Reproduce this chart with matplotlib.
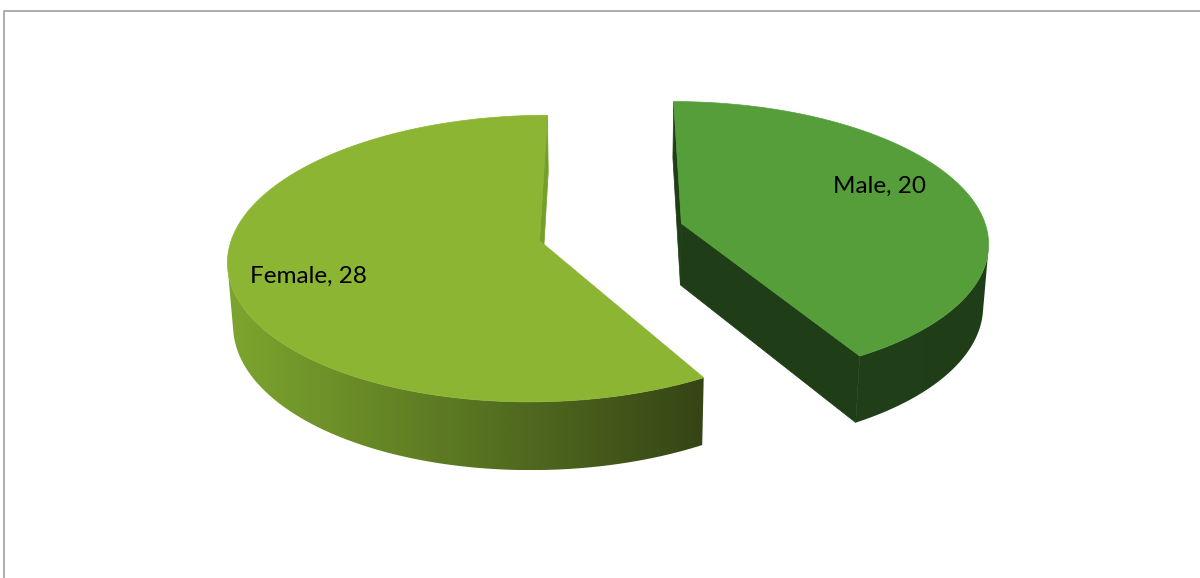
import numpy as np
import matplotlib
matplotlib.use("Agg")
import matplotlib.pyplot as plt
from matplotlib.patches import Polygon
from matplotlib.colors import LinearSegmentedColormap

# ---- data ----
categories = ["Male", "Female"]
values = [20, 28]
labels = ["Male, 20", "Female, 28"]

# ---- style ----
top_colors = ["#559E3A", "#8BB533"]
side_light = ["#21401A", "#7DA52E"]
side_dark = ["#1F3D17", "#354515"]
edge_colors = ["#1F3D17", "#74A02A"]

W, H = 1200, 578
fig = plt.figure(figsize=(12, 5.78), dpi=100)
ax = fig.add_axes([0, 0, 1, 1])
ax.set_xlim(0, W)
ax.set_ylim(H, 0)
ax.axis("off")

# frame (chart area border, cut by the image edges)
ax.plot([3.5, 3.5, W + 5], [H + 5, 11, 11], color="#A0A0A0", lw=1.2, zorder=1)

# projection parameters
elev = np.radians(27)
focal = 7.2
scale = 306
cx, cy = 611, 232
height = 0.23
explode = 0.24

cam = np.array([0.0, -focal * np.cos(elev), focal * np.sin(elev)])


def proj(x, y, z):
    depth = y * np.cos(elev) - z * np.sin(elev)
    v = y * np.sin(elev) + z * np.cos(elev)
    s = focal / (focal + depth)
    return cx + scale * x * s, cy - scale * v * s


def visible(normal, point):
    return np.dot(normal, cam - np.asarray(point)) > 0


total = sum(values)
start = 90.0
slices = []
for i, v in enumerate(values):
    sweep = 360.0 * v / total
    a1 = start - sweep  # clockwise
    a2 = start
    slices.append((a1, a2))
    start = a1

for i, (a1, a2) in enumerate(slices):
    mid = np.radians((a1 + a2) / 2)
    ox, oy = explode * np.cos(mid), explode * np.sin(mid)
    th = np.radians(np.linspace(a1, a2, 600))

    # visible part of the outer side
    vis = np.array([visible((np.cos(t), np.sin(t), 0.0),
                            (ox + np.cos(t), oy + np.sin(t), -height / 2)) for t in th])
    tv = th[vis]
    if len(tv) > 1:
        rx = ox + np.cos(tv)
        ry = oy + np.sin(tv)
        tx_, ty_ = proj(rx, ry, np.zeros_like(rx))
        bx_, by_ = proj(rx, ry, np.full_like(rx, -height))
        sx = np.concatenate([tx_, bx_[::-1]])
        sy = np.concatenate([ty_, by_[::-1]])
        poly = Polygon(np.column_stack([sx, sy]), closed=True,
                       facecolor=side_light[i], edgecolor="none", zorder=2)
        ax.add_patch(poly)
        if side_light[i] != side_dark[i]:
            poly.set_facecolor("none")
            cmap = LinearSegmentedColormap.from_list(
                "side", [side_light[i], side_dark[i]])
            grad = np.linspace(0, 1, 256).reshape(1, -1)
            im = ax.imshow(grad, cmap=cmap, aspect="auto",
                           extent=[sx.min(), sx.max(), sy.max(), sy.min()],
                           zorder=2, interpolation="bilinear")
            im.set_clip_path(poly)

    # radial faces
    for a, sgn in ((a1, -1), (a2, 1)):
        ar = np.radians(a)
        normal = (-sgn * np.sin(ar), sgn * np.cos(ar), 0.0)
        pm = (ox + 0.5 * np.cos(ar), oy + 0.5 * np.sin(ar), -height / 2)
        if not visible(normal, pm):
            continue
        xs = np.array([ox, ox + np.cos(ar), ox + np.cos(ar), ox])
        ys = np.array([oy, oy + np.sin(ar), oy + np.sin(ar), oy])
        zs = np.array([0, 0, -height, -height])
        px, py = proj(xs, ys, zs)
        col = edge_colors[i]
        ax.add_patch(Polygon(np.column_stack([px, py]), closed=True,
                             facecolor=col, edgecolor=col, lw=0.5, zorder=3))

    # top face
    rx = ox + np.cos(th)
    ry = oy + np.sin(th)
    tx = np.concatenate([[ox], rx])
    ty = np.concatenate([[oy], ry])
    px, py = proj(tx, ty, np.zeros_like(tx))
    ax.add_patch(Polygon(np.column_stack([px, py]), closed=True,
                         facecolor=top_colors[i], edgecolor=top_colors[i],
                         lw=0.5, zorder=4))

# labels placed on the top faces
label_r = [0.74, 0.76]
label_ang = [22.5, 199.0]
for i, (a1, a2) in enumerate(slices):
    mid = np.radians((a1 + a2) / 2)
    ox, oy = explode * np.cos(mid), explode * np.sin(mid)
    la = np.radians(label_ang[i])
    lx, ly = proj(ox + label_r[i] * np.cos(la), oy + label_r[i] * np.sin(la), 0.0)
    ax.text(lx, ly, labels[i], ha="center", va="center", fontsize=17.5,
            family="Lato", color="black", zorder=5)

fig.savefig("out.png", dpi=100)
